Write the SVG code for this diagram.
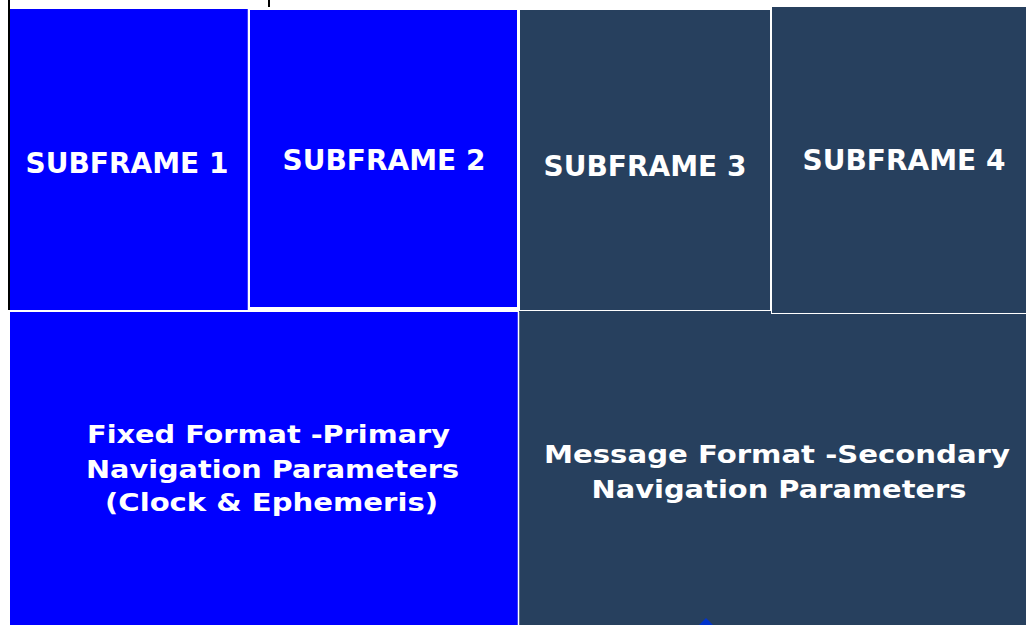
<svg xmlns="http://www.w3.org/2000/svg" width="1026" height="625" viewBox="0 0 1026 625">
<style>
.blue{fill:#0000FF;}
.dark{fill:#27405E;}
.edge{stroke:#FFFFFF;stroke-width:2;}
.t{font-family:"DejaVu Sans","Verdana",sans-serif;font-weight:bold;fill:#FFFFFF;text-anchor:middle;}
.sf{font-size:28px;}
.big{font-size:25px;}
</style>
<rect x="0" y="0" width="1026" height="625" fill="#FFFFFF"/>
<g id="subframe1">
<rect class="blue" x="10" y="9" width="238" height="301"/>
<text class="t sf" x="127" y="173">SUBFRAME 1</text>
</g>
<g id="subframe2">
<rect class="blue edge" x="249" y="9" width="269" height="299"/>
<text class="t sf" x="384" y="170">SUBFRAME 2</text>
</g>
<g id="subframe3">
<rect class="dark edge" x="519" y="9" width="252" height="302"/>
<text class="t sf" x="645" y="176">SUBFRAME 3</text>
</g>
<g id="subframe4">
<rect class="dark edge" x="771" y="6" width="257" height="308"/>
<text class="t sf" x="904" y="170">SUBFRAME 4</text>
</g>
<g id="fixed-format">
<rect class="blue" x="10" y="312" width="508" height="314"/>
<text class="t big" x="268.5" y="443" textLength="363" lengthAdjust="spacingAndGlyphs">Fixed Format -Primary</text>
<text class="t big" x="272.5" y="478" textLength="373" lengthAdjust="spacingAndGlyphs">Navigation Parameters</text>
<text class="t big" x="271.5" y="511" textLength="333" lengthAdjust="spacingAndGlyphs">(Clock &amp; Ephemeris)</text>
</g>
<g id="message-format">
<rect class="dark" x="519" y="314" width="508" height="312"/>
<rect class="dark" x="519" y="311" width="252" height="4"/>
<text class="t big" x="777" y="463" textLength="466" lengthAdjust="spacingAndGlyphs">Message Format -Secondary</text>
<text class="t big" x="779" y="498" textLength="375" lengthAdjust="spacingAndGlyphs">Navigation Parameters</text>
</g>
<line x1="9" y1="0" x2="9" y2="310" stroke="#000000" stroke-width="2"/>
<line x1="269" y1="0" x2="269" y2="7" stroke="#000000" stroke-width="2"/>
<line x1="248.5" y1="9" x2="248.5" y2="310" stroke="#FFFFFF" stroke-width="1.5"/>
<line x1="518.5" y1="312" x2="518.5" y2="625" stroke="#FFFFFF" stroke-width="1.5"/>
<g id="connectors">
<polygon points="699,625 706,618 713,625" fill="#0033CC"/>
</g>
</svg>
